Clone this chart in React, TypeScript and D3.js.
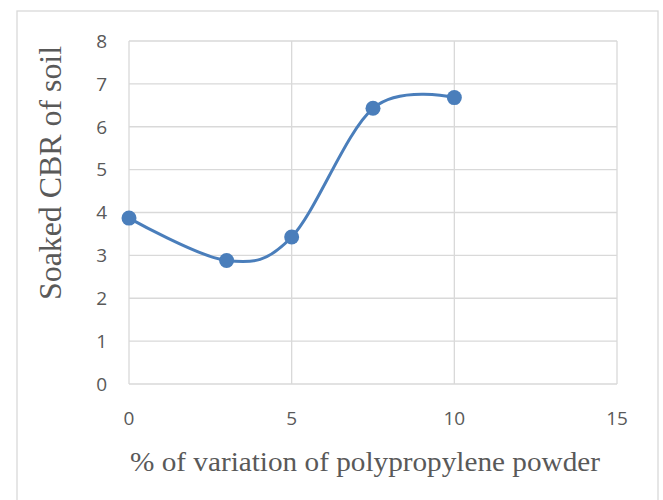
import React from "react";
import * as d3 from "d3";

const xValues = [0, 3, 5, 7.5, 10];
const yValues = [3.87, 2.88, 3.43, 6.43, 6.68];
const xTicks = [0, 5, 10, 15];
const yTicks = [0, 1, 2, 3, 4, 5, 6, 7, 8];
const xTitle = "% of variation of polypropylene powder";
const yTitle = "Soaked CBR of soil";

export default function App() {
  const W = 663, H = 500;
  const left = 129, right = 617, top = 41, bottom = 384;
  const x = d3.scaleLinear().domain([0, 15]).range([left, right]);
  const y = d3.scaleLinear().domain([0, 8]).range([bottom, top]);
  const pts = xValues.map((v, i) => [x(v), y(yValues[i])] as [number, number]);
  const line = d3.line().curve(d3.curveCatmullRom.alpha(0))(pts) || "";
  const grid = "#d9d9d9";
  const txt = "#595959";
  const blue = "#4a7ebb";
  return (
    <svg width={W} height={H} style={{ position: "absolute", left: 0, top: 0, background: "#fff" }}>
      <rect x={17} y={11} width={641} height={500} fill="#fff" stroke={grid} strokeWidth={1.3} />
      {yTicks.map((t) => (
        <line key={"h" + t} x1={left} x2={right} y1={y(t)} y2={y(t)} stroke={grid} strokeWidth={1.3} />
      ))}
      {xTicks.map((t) => (
        <line key={"v" + t} x1={x(t)} x2={x(t)} y1={top} y2={bottom} stroke={grid} strokeWidth={1.3} />
      ))}
      {yTicks.map((t) => (
        <text key={"yl" + t} x={107} y={y(t)} dy="0.36em" textAnchor="end" fontFamily="Open Sans, sans-serif" fontSize={19} fill={txt}>
          {t}
        </text>
      ))}
      {xTicks.map((t) => (
        <text key={"xl" + t} x={x(t)} y={418} dy="0.36em" textAnchor="middle" fontFamily="Open Sans, sans-serif" fontSize={19} fill={txt}>
          {t}
        </text>
      ))}
      <path d={line} fill="none" stroke={blue} strokeWidth={3} />
      {pts.map((p, i) => (
        <circle key={"c" + i} cx={p[0]} cy={p[1]} r={7.5} fill={blue} />
      ))}
      <text x={365} y={471} textAnchor="middle" fontFamily="Liberation Serif, serif" fontSize={28} fill={txt} textLength={470} lengthAdjust="spacingAndGlyphs">
        {xTitle}
      </text>
      <text transform={`translate(61,173) rotate(-90)`} textAnchor="middle" fontFamily="Liberation Serif, serif" fontSize={31} fill={txt} textLength={254} lengthAdjust="spacingAndGlyphs">
        {yTitle}
      </text>
    </svg>
  );
}
